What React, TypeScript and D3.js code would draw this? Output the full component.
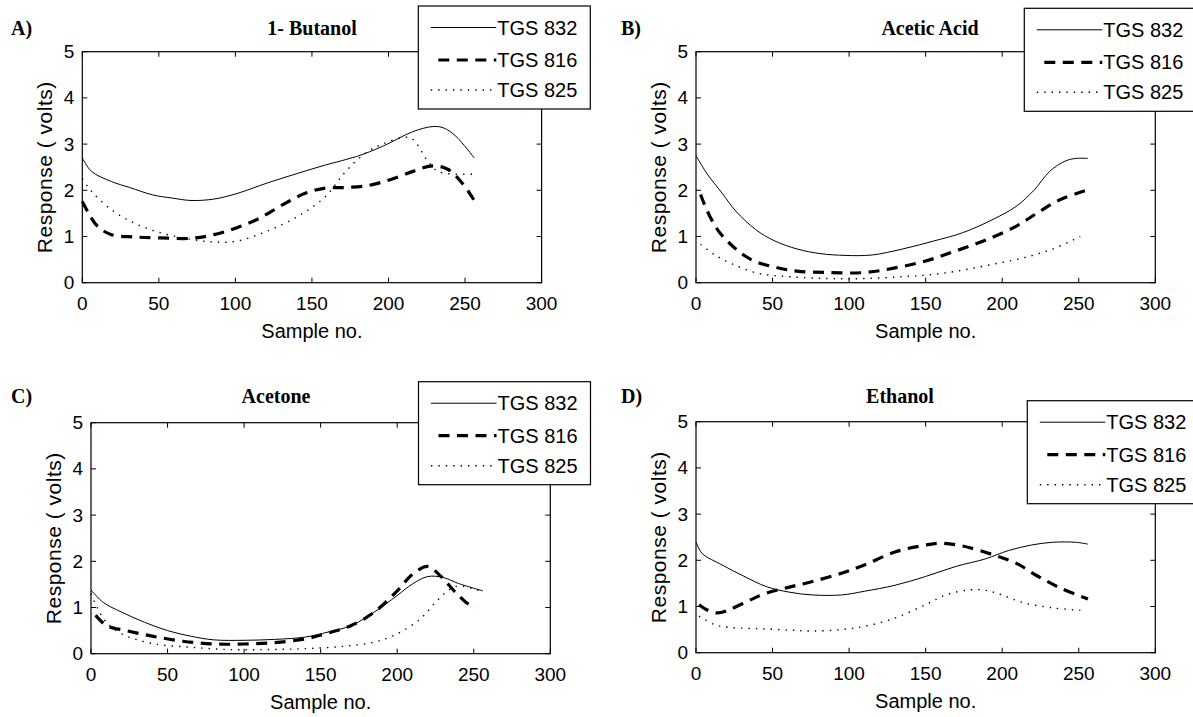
import React from 'react';
import * as d3 from 'd3';

type Pt = [number, number];

// labels
const panelLetters = ['A)', 'B)', 'C)', 'D)'];
const panelTitles = ['1- Butanol', 'Acetic Acid', 'Acetone', 'Ethanol'];
const sensorNames = ['TGS 832', 'TGS 816', 'TGS 825'];
const xTicks = [0, 50, 100, 150, 200, 250, 300];
const yTicks = [0, 1, 2, 3, 4, 5];

// 1- Butanol  [sample no., volts]
const butanol832: Pt[] = [[0, 2.7], [6, 2.41], [19, 2.19], [31, 2.06], [46, 1.9], [59, 1.83], [71, 1.78], [86, 1.81], [101, 1.93], [121, 2.16], [141, 2.37], [159, 2.55], [179, 2.73], [196, 2.95], [216, 3.27], [229, 3.38], [236, 3.35], [244, 3.17], [256, 2.7]];
const butanol816: Pt[] = [[0, 1.76], [4, 1.51], [10, 1.22], [19, 1.04], [34, 0.99], [51, 0.97], [71, 0.96], [86, 1.04], [101, 1.19], [116, 1.4], [131, 1.69], [146, 1.94], [159, 2.05], [171, 2.06], [186, 2.1], [201, 2.23], [216, 2.41], [229, 2.53], [239, 2.45], [249, 2.12], [256, 1.78]];
const butanol825: Pt[] = [[0, 2.25], [6, 1.98], [19, 1.58], [34, 1.29], [51, 1.08], [71, 0.94], [86, 0.88], [101, 0.9], [121, 1.12], [141, 1.44], [159, 1.87], [171, 2.37], [184, 2.78], [196, 3.0], [211, 3.15], [216, 3.1], [226, 2.62], [233, 2.4], [256, 2.35]];

// Acetic Acid
const acetic832: Pt[] = [[0, 2.75], [7, 2.37], [17, 1.94], [26, 1.55], [39, 1.15], [51, 0.91], [66, 0.73], [81, 0.63], [98, 0.59], [115, 0.6], [135, 0.73], [155, 0.9], [174, 1.08], [194, 1.37], [209, 1.65], [221, 2.01], [231, 2.41], [241, 2.63], [248, 2.69], [256, 2.69]];
const acetic816: Pt[] = [[3, 1.91], [7, 1.58], [14, 1.15], [24, 0.79], [36, 0.5], [51, 0.34], [66, 0.25], [86, 0.22], [110, 0.22], [130, 0.32], [150, 0.47], [169, 0.68], [189, 0.92], [209, 1.22], [223, 1.51], [238, 1.8], [256, 2.01]];
const acetic825: Pt[] = [[3, 0.83], [12, 0.61], [24, 0.4], [41, 0.2], [61, 0.13], [86, 0.09], [110, 0.09], [135, 0.13], [155, 0.18], [174, 0.27], [194, 0.4], [214, 0.54], [233, 0.73], [251, 1.0]];

// Acetone
const acetone832: Pt[] = [[0, 1.38], [8, 1.11], [20, 0.9], [35, 0.68], [50, 0.5], [65, 0.38], [80, 0.3], [100, 0.29], [120, 0.31], [140, 0.36], [155, 0.47], [170, 0.61], [185, 0.9], [200, 1.26], [210, 1.51], [220, 1.67], [230, 1.65], [240, 1.52], [256, 1.36]];
const acetone816: Pt[] = [[3, 0.83], [10, 0.61], [23, 0.5], [40, 0.38], [60, 0.27], [80, 0.21], [100, 0.21], [120, 0.24], [140, 0.32], [155, 0.45], [170, 0.61], [185, 0.9], [200, 1.36], [210, 1.72], [220, 1.89], [228, 1.69], [238, 1.33], [245, 1.11], [251, 0.98]];
const acetone825: Pt[] = [[0, 1.3], [4, 1.0], [10, 0.68], [20, 0.43], [40, 0.22], [65, 0.14], [90, 0.09], [115, 0.09], [140, 0.11], [165, 0.16], [185, 0.25], [200, 0.43], [215, 0.75], [225, 1.11], [233, 1.36], [240, 1.47], [250, 1.4], [256, 1.35]];

// Ethanol
const ethanol832: Pt[] = [[0, 2.4], [4, 2.15], [17, 1.9], [31, 1.66], [46, 1.43], [61, 1.31], [76, 1.25], [95, 1.25], [110, 1.33], [130, 1.46], [150, 1.65], [170, 1.87], [189, 2.03], [204, 2.21], [219, 2.33], [233, 2.39], [248, 2.39], [256, 2.35]];
const ethanol816: Pt[] = [[2, 1.04], [7, 0.93], [14, 0.86], [21, 0.92], [34, 1.12], [46, 1.29], [61, 1.42], [76, 1.54], [95, 1.72], [110, 1.9], [130, 2.18], [150, 2.33], [160, 2.37], [174, 2.31], [194, 2.12], [209, 1.94], [223, 1.66], [238, 1.4], [256, 1.16]];
const ethanol825: Pt[] = [[2, 0.79], [12, 0.61], [21, 0.55], [41, 0.52], [61, 0.49], [76, 0.47], [95, 0.5], [110, 0.57], [130, 0.75], [150, 1.04], [164, 1.26], [179, 1.36], [189, 1.35], [199, 1.26], [214, 1.08], [233, 0.97], [251, 0.92]];

const panelSeries = [
  [butanol832, butanol816, butanol825],
  [acetic832, acetic816, acetic825],
  [acetone832, acetone816, acetone825],
  [ethanol832, ethanol816, ethanol825],
];

// where each subplot sits on the page
const panels = [
  { left: 82.3, top: 51.7, headY: 35, titleX: 312, letterX: 11, legX: 418.3, legY: 6 },
  { left: 696, top: 51.7, headY: 35, titleX: 930, letterX: 621, legX: 1024.3, legY: 8.3 },
  { left: 91, top: 422.7, headY: 403, titleX: 276, letterX: 11, legX: 418.5, legY: 381.7 },
  { left: 696, top: 421.7, headY: 403, titleX: 900, letterX: 621, legX: 1027.3, legY: 400.7 },
];
const plotW = 459.3;
const plotH = 231;

const lineStyles = [
  { width: 1, dash: undefined as string | undefined },
  { width: 3.2, dash: '11,7.5' },
  { width: 1.4, dash: '1.4,6' },
];

const sansFont = '"Liberation Sans", Arial, sans-serif';
const serifFont = '"Liberation Serif", "Times New Roman", serif';

function Panel({ idx }: { idx: number }) {
  const p = panels[idx];
  const x = d3.scaleLinear().domain([0, 300]).range([p.left, p.left + plotW]);
  const y = d3.scaleLinear().domain([0, 5]).range([p.top + plotH, p.top]);
  const line = d3
    .line<Pt>()
    .x((d) => x(d[0]))
    .y((d) => y(d[1]))
    .curve(d3.curveCatmullRom.alpha(0.5));
  const bottom = p.top + plotH;
  const right = p.left + plotW;
  const tick = 5;

  const rowOffsets = [21.5, 54, 84];
  const legW = 172;
  const legH = 103;

  return (
    <g>
      <text x={p.letterX} y={p.headY} fontFamily={serifFont} fontWeight="bold" fontSize={20}>
        {panelLetters[idx]}
      </text>
      <text x={p.titleX} y={p.headY} fontFamily={serifFont} fontWeight="bold" fontSize={20} textAnchor="middle">
        {panelTitles[idx]}
      </text>

      <rect x={p.left} y={p.top} width={plotW} height={plotH} fill="none" stroke="#000" strokeWidth={1.2} />

      {xTicks.map((t) => (
        <g key={'x' + t}>
          <line x1={x(t)} x2={x(t)} y1={bottom} y2={bottom - tick} stroke="#000" />
          <line x1={x(t)} x2={x(t)} y1={p.top} y2={p.top + tick} stroke="#000" />
          <text x={x(t)} y={bottom + 27} textAnchor="middle" fontFamily={sansFont} fontSize={19}>
            {t}
          </text>
        </g>
      ))}
      {yTicks.map((t) => (
        <g key={'y' + t}>
          <line x1={p.left} x2={p.left + tick} y1={y(t)} y2={y(t)} stroke="#000" />
          <line x1={right} x2={right - tick} y1={y(t)} y2={y(t)} stroke="#000" />
          <text x={p.left - 8} y={y(t)} textAnchor="end" dominantBaseline="central" fontFamily={sansFont} fontSize={19}>
            {t}
          </text>
        </g>
      ))}

      <text x={(p.left + right) / 2} y={bottom + 55} textAnchor="middle" fontFamily={sansFont} fontSize={20}>
        Sample no.
      </text>
      <text
        transform={`translate(${p.left - 30},${p.top + plotH / 2}) rotate(-90)`}
        textAnchor="middle"
        fontFamily={sansFont}
        fontSize={21}
        letterSpacing={0.5}
      >
        Response ( volts)
      </text>

      {panelSeries[idx].map((s, i) => (
        <path
          key={'s' + i}
          d={line(s) || ''}
          fill="none"
          stroke="#000"
          strokeWidth={lineStyles[i].width}
          strokeDasharray={lineStyles[i].dash}
        />
      ))}

      <rect x={p.legX} y={p.legY} width={legW} height={legH} fill="#fff" stroke="#000" strokeWidth={1.2} />
      {sensorNames.map((name, i) => {
        const ry = p.legY + rowOffsets[i];
        const x0 = p.legX + (i === 1 ? 20 : 12.5);
        return (
          <g key={name}>
            <line
              x1={x0}
              x2={p.legX + 78}
              y1={ry}
              y2={ry}
              stroke="#000"
              strokeWidth={lineStyles[i].width}
              strokeDasharray={lineStyles[i].dash}
            />
            <text x={p.legX + 79} y={ry} dominantBaseline="central" fontFamily={sansFont} fontSize={20}>
              {name}
            </text>
          </g>
        );
      })}
    </g>
  );
}

export default function App() {
  return (
    <svg
      width={1193}
      height={717}
      style={{ position: 'absolute', left: 0, top: 0, background: '#fff' }}
    >
      {panels.map((_, i) => (
        <Panel key={i} idx={i} />
      ))}
    </svg>
  );
}
